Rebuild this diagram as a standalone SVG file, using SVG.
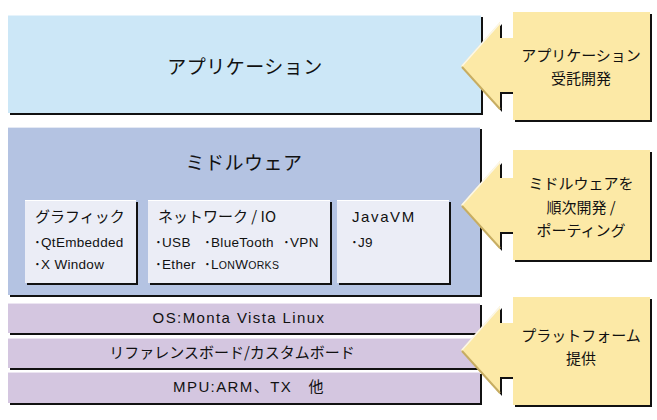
<svg xmlns="http://www.w3.org/2000/svg" width="657" height="420" viewBox="0 0 657 420">
<defs>
<style>
.jp{font-family:"Noto Sans CJK JP","Liberation Sans",sans-serif;fill:#111}
.lt{font-family:"Liberation Sans","Noto Sans CJK JP",sans-serif;fill:#111}
.it{font-family:"Liberation Sans","Noto Sans CJK JP",sans-serif;fill:#111;font-size:13.5px;letter-spacing:0.3px}
.shadow{fill:#111}
.callout{fill:#fce9a6}
.hl{fill:none;stroke:#fbf7ea;stroke-width:1.5}
.dk{fill:none;stroke:#c7ad62;stroke-width:2}
.sub{fill:#ebedf6}
.bar{fill:#d4c6e0}
</style>
</defs>
<rect width="657" height="420" fill="#ffffff"/>

<g id="layer-application">
<rect class="shadow" x="10" y="17" width="473" height="98"/>
<rect x="8" y="15" width="473" height="98" fill="#cce7f7"/>
<line x1="8" y1="15.5" x2="481" y2="15.5" stroke="#e6f3fb" stroke-width="1"/>
<text class="jp" x="245" y="74" font-size="19" text-anchor="middle" letter-spacing="0.5">アプリケーション</text>
</g>

<g id="layer-middleware">
<rect class="shadow" x="10" y="129" width="472" height="168"/>
<rect x="8" y="127" width="472" height="168" fill="#b4c3e2"/>
<line x1="8" y1="127.5" x2="480" y2="127.5" stroke="#e4e9f4" stroke-width="1"/>
<text class="jp" x="244" y="170" font-size="19" text-anchor="middle" letter-spacing="0.5">ミドルウェア</text>
</g>

<g id="box-graphics">
<rect class="shadow" x="27" y="202" width="111" height="83"/>
<rect class="sub" x="25" y="200" width="111" height="83"/>
<line x1="25" y1="200.5" x2="136" y2="200.5" stroke="#ffffff"/>
<text class="jp" x="35" y="222" font-size="15">グラフィック</text>
<text class="it" x="34" y="247">･QtEmbedded</text>
<text class="it" x="34" y="269">･X Window</text>
</g>

<g id="box-network">
<rect class="shadow" x="150" y="202" width="182" height="83"/>
<rect class="sub" x="148" y="200" width="182" height="83"/>
<line x1="148" y1="200.5" x2="330" y2="200.5" stroke="#ffffff"/>
<text class="jp" x="158" y="222" font-size="15">ネットワーク / IO</text>
<text class="it" x="155" y="247">･USB</text>
<text class="it" x="204" y="247">･BlueTooth</text>
<text class="it" x="283" y="247">･VPN</text>
<text class="it" x="155" y="269">･Ether</text>
<text class="it" x="204" y="269">･L<tspan font-size="10.5">ON</tspan>W<tspan font-size="10.5">ORKS</tspan></text>
</g>

<g id="box-javavm">
<rect class="shadow" x="339" y="202" width="112" height="83"/>
<rect class="sub" x="337" y="200" width="112" height="83"/>
<line x1="337" y1="200.5" x2="449" y2="200.5" stroke="#ffffff"/>
<text class="lt" x="352" y="222" font-size="15" letter-spacing="1.6">JavaVM</text>
<text class="it" x="351" y="247">･J9</text>
</g>

<g id="bar-os">
<rect class="shadow" x="10" y="305" width="472" height="30"/>
<rect class="bar" x="8" y="303" width="472" height="30"/>
<line x1="8" y1="303.5" x2="480" y2="303.5" stroke="#ece5f2"/>
<text class="lt" x="239" y="323" font-size="15" text-anchor="middle" letter-spacing="1.4">OS:Monta Vista Linux</text>
</g>

<g id="bar-board">
<rect class="shadow" x="10" y="340" width="472" height="30"/>
<rect class="bar" x="8" y="338" width="472" height="30"/>
<line x1="8" y1="338.5" x2="480" y2="338.5" stroke="#ece5f2"/>
<text class="jp" x="232" y="358" font-size="15" text-anchor="middle">リファレンスボード/カスタムボード</text>
</g>

<g id="bar-mpu">
<rect class="shadow" x="10" y="374" width="472" height="31"/>
<rect class="bar" x="8" y="372" width="472" height="31"/>
<line x1="8" y1="372.5" x2="480" y2="372.5" stroke="#ece5f2"/>
<text class="lt" x="249" y="392" font-size="15" text-anchor="middle" letter-spacing="1.4">MPU:ARM<tspan class="jp">、</tspan>TX　<tspan class="jp">他</tspan></text>
</g>

<g id="callout-app">
<path class="shadow" transform="translate(2,2)" d="M513,12 H650 V120 H513 V92 H500 V110 L461,66 L500,22 V38 H513 Z"/>
<path class="callout" d="M513,12 H650 V120 H513 V92 H500 V110 L461,66 L500,22 V38 H513 Z"/>
<polyline class="hl" points="462,66 500,23"/>
<polyline class="dk" points="462,67 500,109"/>
<text class="jp" x="581" y="61" font-size="15" text-anchor="middle">アプリケーション</text>
<text class="jp" x="581" y="84" font-size="15" text-anchor="middle">受託開発</text>
</g>

<g id="callout-middleware">
<path class="shadow" transform="translate(2,2)" d="M513,150 H650 V260 H513 V232 H500 V249 L461,205 L500,161 V178 H513 Z"/>
<path class="callout" d="M513,150 H650 V260 H513 V232 H500 V249 L461,205 L500,161 V178 H513 Z"/>
<polyline class="hl" points="462,205 500,162"/>
<polyline class="dk" points="462,206 500,248"/>
<text class="jp" x="581" y="189" font-size="15" text-anchor="middle">ミドルウェアを</text>
<text class="jp" x="581" y="213" font-size="15" text-anchor="middle">順次開発 /</text>
<text class="jp" x="581" y="236" font-size="15" text-anchor="middle">ポーティング</text>
</g>

<g id="callout-platform">
<path class="shadow" transform="translate(2,2)" d="M513,297 H650 V405 H513 V377 H500 V394 L461,350 L500,306 V323 H513 Z"/>
<path class="callout" d="M513,297 H650 V405 H513 V377 H500 V394 L461,350 L500,306 V323 H513 Z"/>
<polyline class="hl" points="462,350 500,307"/>
<polyline class="dk" points="462,351 500,393"/>
<text class="jp" x="581" y="341" font-size="15" text-anchor="middle">プラットフォーム</text>
<text class="jp" x="581" y="364" font-size="15" text-anchor="middle">提供</text>
</g>

<g id="connectors"></g>
</svg>
